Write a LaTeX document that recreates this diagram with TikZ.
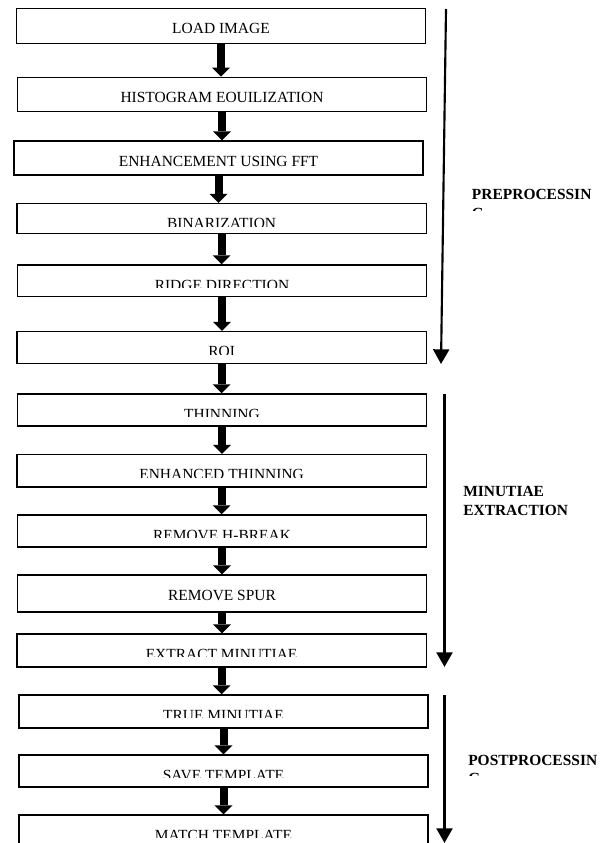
\documentclass[tikz,border=0pt]{standalone}
\usepackage{fontspec}
\setmainfont{Liberation Serif}
\usetikzlibrary{arrows.meta,calc}

\newcommand{\stagefont}{\fontsize{11.6}{13.9}\selectfont}

\tikzset{
  stage/.style={draw, line width=1.1pt, fill=white, inner sep=0pt,
    minimum width=307pt, minimum height=#1*0.75pt},
  cutlabel/.style 2 args={path picture={
      \clip (path picture bounding box.north west) rectangle ($(path picture bounding box.north east)+(0,-#2)$);
      \node[anchor=base, inner sep=0pt, draw=none, fill=none, font=\stagefont] at ($(path picture bounding box.north)+(0,-25)$) {#1};}},
  flow/.style={line width=6pt, -{Triangle[width=13.5pt, length=6.75pt, line width=0pt]}},
  phase/.style={line width=1.6pt, -{Triangle[width=12pt, length=11pt]}},
  phaselabel/.style={anchor=north west, inner sep=0pt, align=left, font=\stagefont\bfseries}
}

\begin{document}
\begin{tikzpicture}[x=0.75pt,y=0.75pt,yscale=-1,xscale=1]
\useasboundingbox (0,0) rectangle (606,843);

%Stages [preprocessing]
\node[stage=35, cutlabel={LOAD IMAGE}{40}] (load) at (221,25.8) {};
\node[stage=34.4, cutlabel={HISTOGRAM EOUILIZATION}{40}] (hist) at (222,94.5) {};
\node[stage=34, cutlabel={ENHANCEMENT USING FFT}{26}] (fft) at (218.5,158) {};
\node[stage=30, cutlabel={BINARIZATION}{22.5}] (bin) at (221.6,218.7) {};
\node[stage=31.5, cutlabel={RIDGE DIRECTION}{22.5}] (ridge) at (222,280.8) {};
\node[stage=31.6, cutlabel={ROI}{22.5}] (roi) at (221.6,347.5) {};
%Stages [minutiae extraction]
\node[stage=32, cutlabel={THINNING}{22.5}] (thin) at (222,410) {};
\node[stage=32.5, cutlabel={ENHANCED THINNING}{22.5}] (ethin) at (221.6,470.8) {};
\node[stage=32, cutlabel={REMOVE H-BREAK}{22.5}] (hbreak) at (222,531) {};
\node[stage=37, cutlabel={REMOVE SPUR}{40}] (spur) at (222,593.5) {};
\node[stage=33, cutlabel={EXTRACT MINUTIAE}{22.5}] (extract) at (221.6,650.5) {};
%Stages [postprocessing]
\node[stage=33, cutlabel={TRUE MINUTIAE}{22.5}] (truem) at (223.5,711.5) {};
\node[stage=32, cutlabel={SAVE TEMPLATE}{22.5}] (save) at (223.5,771) {};
\node[stage=34, cutlabel={MATCH TEMPLATE}{22.5}] (match) at (223.5,832) {};

%Block arrows
\draw[flow] (load.south) -- (load.south |- hist.north);
\draw[flow] (hist.south) -- (hist.south |- fft.north);
\draw[flow] (fft.south) -- (fft.south |- bin.north);
\draw[flow] (bin.south) -- (bin.south |- ridge.north);
\draw[flow] (ridge.south) -- (ridge.south |- roi.north);
\draw[flow] (roi.south) -- (roi.south |- thin.north);
\draw[flow] (thin.south) -- (thin.south |- ethin.north);
\draw[flow] (ethin.south) -- (ethin.south |- hbreak.north);
\draw[flow] (hbreak.south) -- (hbreak.south |- spur.north);
\draw[flow] (spur.south) -- (spur.south |- extract.north);
\draw[flow] (extract.south) -- (extract.south |- truem.north);
\draw[flow] (truem.south) -- (truem.south |- save.north);
\draw[flow] (save.south) -- (save.south |- match.north);

%Phase arrows
\coordinate (pretop) at (446,9);
\coordinate (prebot) at (441,364);
\coordinate (mintop) at (444.5,394);
\coordinate (minbot) at (444.5,667);
\coordinate (posttop) at (444.5,695);
\coordinate (postbot) at (444.5,843);
\draw[phase] (pretop) -- (prebot);
\draw[phase] (mintop) -- (minbot);
\draw[phase] (posttop) -- (postbot);

%Phase labels
\begin{scope}
\clip (460,180) rectangle (606,210);
\node[phaselabel] (prelabel) at (471.7,189.3) {PREPROCESSIN\\G};
\end{scope}
\node[phaselabel] (minlabel) at (463,486.5) {MINUTIAE\\EXTRACTION};
\begin{scope}
\clip (460,745) rectangle (606,775);
\node[phaselabel] (postlabel) at (468,754.5) {POSTPROCESSIN\\G};
\end{scope}

\end{tikzpicture}
\end{document}
